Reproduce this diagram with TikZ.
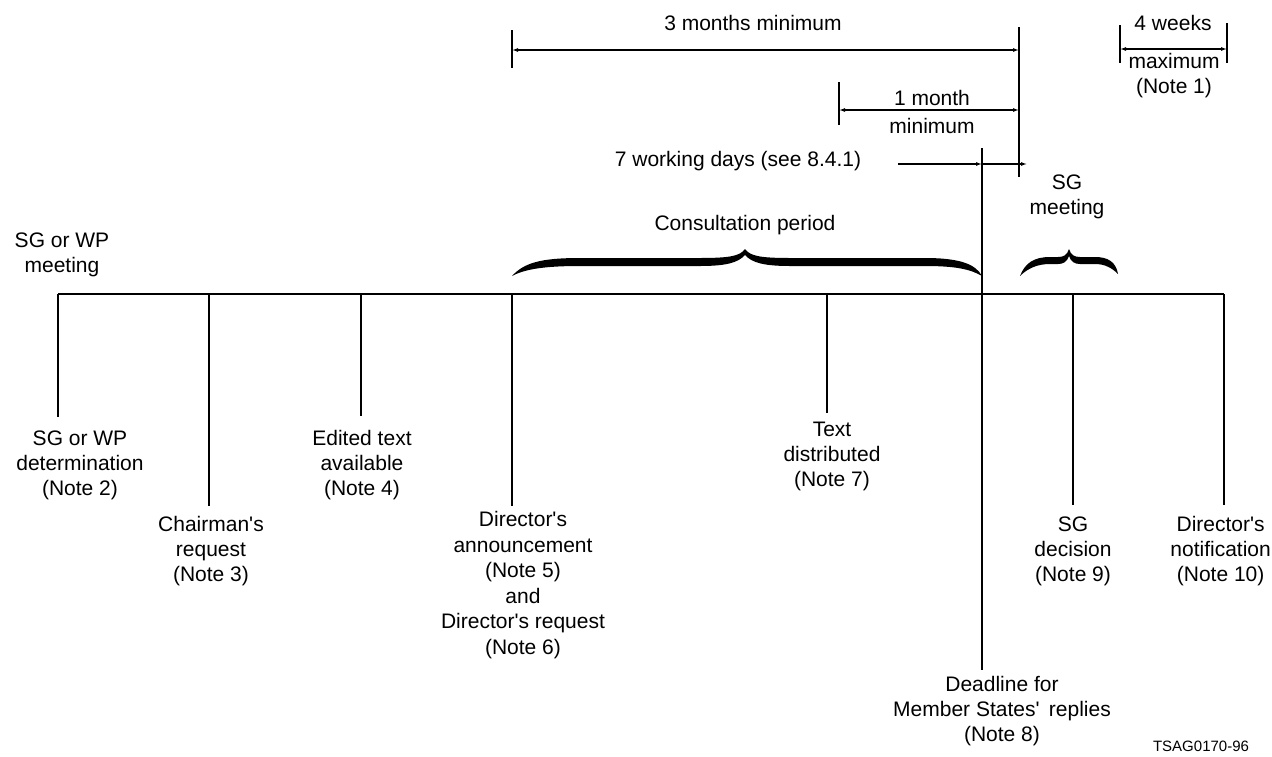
\documentclass[tikz,border=0pt]{standalone}
\usepackage{fontspec}
\setmainfont{Liberation Sans}[Ligatures=TeXOff]
\usetikzlibrary{arrows.meta}
\begin{document}
\begin{tikzpicture}[x=1pt,y=-1pt,
  lbl/.style={font=\fontsize{21}{25}\selectfont, align=center, inner sep=0pt},
  ln/.style={line width=1.3pt},
  tick/.style={line width=1.2pt},
  dim/.style={line width=1.1pt, {Latex[length=6pt,width=4pt]}-{Latex[length=6pt,width=4pt]}},
  rdim/.style={line width=1.1pt, -{Latex[length=6pt,width=4pt]}},
  bracefill/.style={fill=black, draw=none}]
\useasboundingbox (0,0) rectangle (1272,756);

% timeline coordinates
\coordinate (tA) at (58,294);
\coordinate (tB) at (209,294);
\coordinate (tC) at (361,294);
\coordinate (tD) at (512,294);
\coordinate (tE) at (827,294);
\coordinate (tF) at (982,294);
\coordinate (tG) at (1073,294);
\coordinate (tJ) at (1224,294);
% lower ends
\coordinate (eA) at (58,417);
\coordinate (eB) at (209,506);
\coordinate (eC) at (361,416);
\coordinate (eD) at (512,506);
\coordinate (eE) at (827,413);
\coordinate (eF) at (982,670);
\coordinate (eG) at (1073,505);
\coordinate (eJ) at (1224,505);
\coordinate (fTop) at (982,148);

% main timeline and drops
\draw[ln] (tA) -- (tJ);
\foreach \p in {A,B,C,D,E,G,J} \draw[ln] (t\p) -- (e\p);
\draw[ln] (fTop) -- (eF);

% dimension ticks
\coordinate (rTop) at (1019,27);
\coordinate (rBot) at (1019,177);
\draw[tick] (rTop) -- (rBot);
\coordinate (m3a) at (512,30);
\coordinate (m3b) at (512,68);
\draw[tick] (m3a) -- (m3b);
\coordinate (m1a) at (839,82);
\coordinate (m1b) at (839,125);
\draw[tick] (m1a) -- (m1b);
\coordinate (w4a) at (1120,25);
\coordinate (w4b) at (1120,63);
\coordinate (w4c) at (1227,23);
\coordinate (w4d) at (1227,63);
\draw[tick] (w4a) -- (w4b);
\draw[tick] (w4c) -- (w4d);

% dimension arrows
\coordinate (d3L) at (512,50);
\coordinate (d3R) at (1019,50);
\draw[dim] (d3L) -- (d3R);
\coordinate (d1L) at (839,110);
\coordinate (d1R) at (1019,110);
\draw[dim] (d1L) -- (d1R);
\coordinate (w4L) at (1120,49);
\coordinate (w4R) at (1227,49);
\draw[dim] (w4L) -- (w4R);
\coordinate (s7a) at (898,164);
\coordinate (s7b) at (982,164);
\coordinate (s7c) at (1027,164);
\draw[rdim] (s7a) -- (s7b);
\draw[rdim] (s7b) -- (s7c);

% braces
\fill[bracefill] (512,276) .. controls (524,263) and (540,258) .. (580,258)
  -- (700,258) .. controls (730,258) and (740,256) .. (745,249)
  .. controls (750,256) and (760,258) .. (790,258)
  -- (925,258) .. controls (962,258) and (976,265) .. (982,276)
  .. controls (970,269) and (955,266) .. (925,266)
  -- (790,266) .. controls (765,266) and (752,263) .. (745,255)
  .. controls (738,263) and (725,266) .. (700,266)
  -- (580,266) .. controls (545,266) and (525,269) .. (512,276) -- cycle;
\fill[bracefill] (1020,276) .. controls (1025,263) and (1034,257) .. (1050,257)
  -- (1058,257) .. controls (1064,257) and (1067,255) .. (1069,249)
  .. controls (1071,255) and (1074,257) .. (1080,257)
  -- (1095,257) .. controls (1108,257) and (1116,262) .. (1118,274)
  .. controls (1112,268) and (1105,264) .. (1095,264)
  -- (1080,264) .. controls (1075,264) and (1071,262) .. (1069,256)
  .. controls (1067,262) and (1063,264) .. (1058,264)
  -- (1050,264) .. controls (1038,264) and (1028,268) .. (1020,276) -- cycle;

% labels
\node[lbl] (meet) at (62,255) {SG or WP\\meeting};
\node[lbl] (cons) at (745,225) {Consultation period};
\node[lbl] (sgm) at (1067,197) {SG\\meeting};
\node[lbl] (m3) at (753,23) {3 months minimum};
\node[lbl] (m1) at (932,98) {1 month};
\node[lbl] (m1b) at (932,126) {minimum};
\node[lbl] (wd7) at (738,161) {7 working days (see 8.4.1)};
\node[lbl] (w4) at (1173,23) {4 weeks};
\node[lbl] (w4n) at (1174,76) {maximum\\(Note 1)};

\node[lbl] (det) at (80,465) {SG or WP\\determination\\(Note 2)};
\node[lbl] (chr) at (211,551) {Chairman's\\request\\(Note 3)};
\node[lbl] (edt) at (362,465) {Edited text\\available\\(Note 4)};
\node[lbl, font=\fontsize{21}{25.6}\selectfont] (dir) at (523,585) {Director's\\announcement\\(Note 5)\\and\\Director's request\\(Note 6)};
\node[lbl] (txt) at (832,456) {Text\\distributed\\(Note 7)};
\node[lbl] (ddl) at (1002,711) {Deadline for\\Member States'\, replies\\(Note 8)};
\node[lbl] (sgd) at (1073,551) {SG\\decision\\(Note 9)};
\node[lbl, anchor=east] (dnot) at (1271,551) {Director's\\notification\\(Note 10)};

\node[font=\fontsize{15}{18}\selectfont, inner sep=0pt] (code) at (1201,746) {TSAG0170-96};
\end{tikzpicture}
\end{document}
